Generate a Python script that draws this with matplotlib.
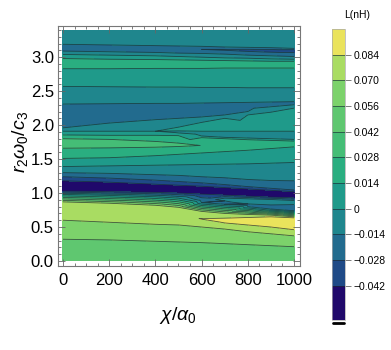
import numpy as np
import matplotlib.pyplot as plt
import matplotlib.tri as mtri
from matplotlib.lines import Line2D
from matplotlib.ticker import MultipleLocator, FormatStrFormatter

plt.rcParams['font.family'] = ['Liberation Sans', 'DejaVu Sans']
plt.rcParams['mathtext.fontset'] = 'custom'
plt.rcParams['mathtext.rm'] = 'Liberation Sans'
plt.rcParams['mathtext.it'] = 'Liberation Sans:italic'

# contour levels of L (nH) and the band colours between them
levels = [-0.0607, -0.042, -0.028, -0.014, 0.0, 0.014, 0.028, 0.042, 0.056, 0.070, 0.084, 0.098]
band_colors = ['#20096b', '#1f4a87', '#226b8e', '#1f868d', '#1f9a8a', '#2aae80',
               '#45bd76', '#5fc770', '#7cd26b', '#a9dc62', '#eae35c']
cbar_ticks = [-0.042, -0.028, -0.014, 0.0, 0.014, 0.028, 0.042, 0.056, 0.070, 0.084]
cbar_labels = ['\u22120.042', '\u22120.028', '\u22120.014', '0', '0.014', '0.028',
               '0.042', '0.056', '0.070', '0.084']

# values: (r2*w0/c3, L) along columns of chi/alpha0
x_cols = [0, 200, 400, 500, 600, 700, 800, 900, 1000]
prof_0 = [(3.40, -0.006), (3.19, -0.014), (3.14, -0.022), (3.09, -0.014), (3.04, 0.0), (2.98, 0.014),
          (2.905, 0.022), (2.83, 0.014), (2.57, 0.0), (2.31, -0.014), (2.13, -0.024), (1.96, -0.014),
          (1.91, 0.0), (1.855, 0.014), (1.80, 0.028), (1.73, 0.036), (1.66, 0.028), (1.51, 0.014),
          (1.39, 0.0), (1.30, -0.014), (1.24, -0.028), (1.18, -0.042), (1.10, -0.060), (1.03, -0.042),
          (0.98, 0.0), (0.87, 0.070), (0.74, 0.078), (0.60, 0.070), (0.32, 0.056), (0.0, 0.050)]
prof_200 = [(3.40, -0.006), (3.18, -0.014), (3.13, -0.023), (3.08, -0.014), (3.03, 0.0), (2.97, 0.014),
            (2.90, 0.022), (2.83, 0.014), (2.565, 0.0), (2.315, -0.014), (2.17, -0.024), (2.03, -0.014),
            (1.91, 0.0), (1.85, 0.014), (1.79, 0.028), (1.725, 0.035), (1.665, 0.028), (1.52, 0.014),
            (1.40, 0.0), (1.29, -0.014), (1.22, -0.028), (1.16, -0.042), (1.09, -0.058), (1.02, -0.042),
            (0.965, 0.0), (0.85, 0.070), (0.72, 0.078), (0.57, 0.070), (0.31, 0.056), (0.0, 0.050)]
prof_400 = [(3.40, -0.006), (3.17, -0.014), (3.125, -0.025), (3.07, -0.014), (3.02, 0.0), (2.965, 0.014),
            (2.90, 0.022), (2.835, 0.014), (2.56, 0.0), (2.32, -0.014), (2.20, -0.023), (2.08, -0.014),
            (1.91, 0.0), (1.85, 0.014), (1.76, 0.028), (1.72, 0.033), (1.675, 0.028), (1.55, 0.014),
            (1.41, 0.0), (1.27, -0.014), (1.19, -0.028), (1.13, -0.042), (1.07, -0.056), (1.01, -0.042),
            (0.945, 0.0), (0.82, 0.070), (0.70, 0.079), (0.54, 0.070), (0.29, 0.056), (0.0, 0.050)]
prof_500 = [(3.40, -0.006), (3.165, -0.014), (3.12, -0.026), (3.06, -0.014), (3.01, 0.0), (2.96, 0.014),
            (2.895, 0.022), (2.835, 0.014), (2.56, 0.0), (2.32, -0.014), (2.21, -0.022), (2.10, -0.014),
            (1.97, 0.0), (1.943, 0.004), (1.915, 0.0), (1.90, -0.003), (1.885, 0.0), (1.845, 0.014),
            (1.735, 0.028), (1.71, 0.031), (1.685, 0.028), (1.57, 0.014), (1.415, 0.0), (1.26, -0.014),
            (1.17, -0.028), (1.115, -0.042), (1.055, -0.055), (1.00, -0.042), (0.925, 0.0), (0.79, 0.070),
            (0.68, 0.080), (0.53, 0.070), (0.28, 0.056), (0.0, 0.049)]
prof_600 = [(3.40, -0.006), (3.16, -0.014), (3.115, -0.028), (3.055, -0.014), (3.00, 0.0), (2.955, 0.014),
            (2.895, 0.022), (2.835, 0.014), (2.555, 0.0), (2.325, -0.014), (2.22, -0.021), (2.12, -0.014),
            (2.04, 0.0), (1.98, 0.006), (1.91, 0.0), (1.875, -0.005), (1.84, 0.0), (1.815, 0.014),
            (1.70, 0.0278), (1.59, 0.014), (1.42, 0.0), (1.24, -0.014), (1.15, -0.028), (1.10, -0.042),
            (1.04, -0.054), (0.985, -0.042), (0.90, -0.020), (0.86, -0.014), (0.73, 0.070), (0.62, 0.0845),
            (0.50, 0.070), (0.27, 0.056), (0.0, 0.049)]
prof_700 = [(3.40, -0.006), (3.15, -0.014), (3.11, -0.030), (3.045, -0.014), (2.99, 0.0), (2.95, 0.014),
            (2.89, 0.022), (2.84, 0.014), (2.555, 0.0), (2.33, -0.014), (2.24, -0.020), (2.15, -0.014),
            (2.10, 0.0), (2.00, 0.007), (1.91, 0.0), (1.86, -0.005), (1.82, 0.0), (1.80, 0.014),
            (1.71, 0.024), (1.61, 0.014), (1.425, 0.0), (1.225, -0.014), (1.125, -0.028), (1.08, -0.042),
            (1.025, -0.052), (0.97, -0.042), (0.925, -0.014), (0.905, -0.010), (0.885, -0.014),
            (0.86, -0.018), (0.835, -0.014), (0.70, 0.070), (0.63, 0.084), (0.595, 0.088), (0.56, 0.084),
            (0.47, 0.070), (0.255, 0.056), (0.0, 0.048)]
prof_800 = [(3.40, -0.006), (3.145, -0.014), (3.105, -0.033), (3.03, -0.014), (2.985, 0.0), (2.945, 0.014),
            (2.89, 0.022), (2.84, 0.014), (2.55, 0.0), (2.335, -0.014), (2.27, -0.019), (2.20, -0.014),
            (2.15, 0.0), (2.03, 0.007), (1.91, 0.0), (1.855, -0.005), (1.81, 0.0), (1.785, 0.014),
            (1.71, 0.022), (1.63, 0.014), (1.43, 0.0), (1.20, -0.014), (1.095, -0.028), (1.06, -0.042),
            (1.01, -0.051), (0.955, -0.042), (0.915, -0.014), (0.875, -0.006), (0.84, -0.014),
            (0.82, -0.016), (0.80, -0.014), (0.685, 0.070), (0.64, 0.084), (0.58, 0.090), (0.53, 0.084),
            (0.43, 0.070), (0.24, 0.056), (0.0, 0.048)]
prof_900 = [(3.40, -0.006), (3.14, -0.014), (3.10, -0.035), (3.02, -0.014), (2.975, 0.0), (2.94, 0.014),
            (2.89, 0.022), (2.84, 0.014), (2.55, 0.0), (2.34, -0.014), (2.305, -0.018), (2.27, -0.014),
            (2.19, 0.0), (2.05, 0.007), (1.91, 0.0), (1.85, -0.005), (1.80, 0.0), (1.775, 0.014),
            (1.72, 0.021), (1.655, 0.014), (1.44, 0.0), (1.185, -0.014), (1.07, -0.028), (1.04, -0.042),
            (0.99, -0.050), (0.94, -0.042), (0.905, -0.014), (0.87, -0.006), (0.825, -0.014),
            (0.80, -0.019), (0.765, -0.014), (0.675, 0.070), (0.65, 0.084), (0.575, 0.092), (0.50, 0.084),
            (0.40, 0.070), (0.225, 0.056), (0.0, 0.048)]
prof_1000 = [(3.40, -0.006), (3.13, -0.014), (3.10, -0.036), (3.01, -0.014), (2.97, 0.0), (2.94, 0.014),
             (2.89, 0.022), (2.84, 0.014), (2.55, 0.0), (2.345, -0.014), (2.325, -0.017), (2.30, -0.014),
             (2.25, 0.0), (2.08, 0.007), (1.91, 0.0), (1.85, -0.005), (1.79, 0.0), (1.765, 0.014),
             (1.72, 0.020), (1.68, 0.014), (1.45, 0.0), (1.18, -0.014), (1.045, -0.028), (1.02, -0.042),
             (0.975, -0.050), (0.93, -0.042), (0.89, -0.014), (0.86, -0.007), (0.83, -0.014),
             (0.78, -0.021), (0.74, -0.014), (0.65, 0.070), (0.635, 0.084), (0.56, 0.094), (0.46, 0.084),
             (0.37, 0.070), (0.21, 0.056), (0.0, 0.048)]
profiles = [prof_0, prof_200, prof_400, prof_500, prof_600, prof_700, prof_800, prof_900, prof_1000]

# stack the columns into points; keep each column's point indices sorted by y
xs, ys, zs, col_idx = [], [], [], []
for xc, prof in zip(x_cols, profiles):
    idx = []
    for y, v in sorted(prof):
        idx.append(len(xs))
        xs.append(xc)
        ys.append(y)
        zs.append(v)
    col_idx.append(idx)
xs = np.array(xs, dtype=float)
ys = np.array(ys)
zs = np.array(zs)

# ribbon triangulation between neighbouring columns
triangles = []
for a, b in zip(col_idx[:-1], col_idx[1:]):
    i = j = 0
    while i < len(a) - 1 or j < len(b) - 1:
        if j == len(b) - 1 or (i < len(a) - 1 and ys[a[i + 1]] <= ys[b[j + 1]]):
            triangles.append((a[i], a[i + 1], b[j]))
            i += 1
        else:
            triangles.append((a[i], b[j + 1], b[j]))
            j += 1
tri = mtri.Triangulation(xs, ys, triangles)

fig = plt.figure(figsize=(3.91, 3.5), dpi=100)
ax = fig.add_axes([0.1483, 0.24, 0.6177, 0.6857])
cs = ax.tricontourf(tri, zs, levels=levels, colors=band_colors)
cl = ax.tricontour(tri, zs, levels=levels[1:-1], colors='#1a2a30', linewidths=0.6,
                   alpha=0.75, linestyles='solid')

ax.set_xlim(-21.6, 1023.8)
ax.set_ylim(-0.074, 3.459)
ax.set_xticks([0, 200, 400, 600, 800, 1000])
ax.xaxis.set_minor_locator(MultipleLocator(50))
ax.yaxis.set_major_locator(MultipleLocator(0.5))
ax.yaxis.set_minor_locator(MultipleLocator(0.1))
ax.yaxis.set_major_formatter(FormatStrFormatter('%.1f'))
ax.tick_params(which='both', direction='in', top=True, right=True, colors='#666666',
               labelcolor='black', labelsize=12, width=0.6)
ax.tick_params(which='major', length=5)
ax.tick_params(which='minor', length=2.5)
ax.tick_params(axis='x', pad=5)
ax.tick_params(axis='y', pad=3)
for sp in ax.spines.values():
    sp.set_color('#777777')
    sp.set_linewidth(0.8)

fig.text(0.455, 0.10, r'$\chi/\alpha_0$', fontsize=14, ha='center', va='center')
fig.text(0.05, 0.595, r'$r_2\omega_0/c_3$', fontsize=14, ha='center', va='center', rotation=90)

cax = fig.add_axes([0.8483, 0.0857, 0.034, 0.8314])
cb = fig.colorbar(cs, cax=cax, ticks=cbar_ticks, spacing='proportional')
cb.add_lines(cl)
cb.set_ticklabels(cbar_labels)
cb.ax.tick_params(length=4, width=0.6, colors='#666666', labelcolor='black', labelsize=7.5, pad=2)
cb.outline.set_edgecolor('#aaaaaa')
cb.outline.set_linewidth(0.5)
fig.text(0.913, 0.957, 'L(nH)', fontsize=7.5, ha='center', va='center')
fig.add_artist(Line2D([0.851, 0.879], [0.077, 0.077], color='black', lw=2, solid_capstyle='round'))

fig.savefig('out.png', dpi=100)
